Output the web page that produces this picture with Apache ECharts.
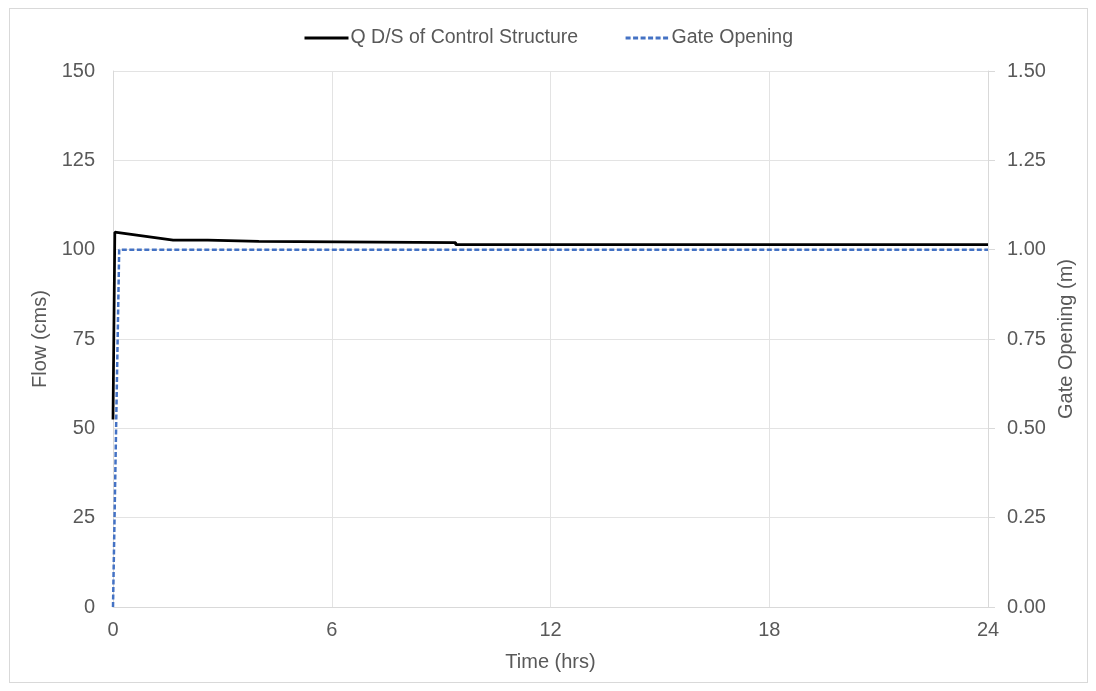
<!DOCTYPE html>
<html>
<head>
<meta charset="utf-8">
<script src="https://cdn.jsdelivr.net/npm/echarts@6/dist/echarts.min.js"></script>
<style>
html,body{margin:0;padding:0;background:#fff;}
#frame{position:absolute;left:9px;top:8px;width:1079px;height:675px;border:1px solid #d9d9d9;box-sizing:border-box;}
#chart{position:absolute;left:0;top:0;width:1096px;height:691px;}
</style>
</head>
<body>
<div id="frame"></div>
<div id="chart"></div>
<script>
// Time (hrs) and flow (cms) downstream of control structure
const flowTime = [0, 0.05, 1.65, 2.6, 2.6, 4.0, 4.0, 9.4, 9.4, 24];
const flowValues = [52.5, 104.9, 102.7, 102.7, 102.3, 102.3, 102.0, 102.0, 101.4, 101.4];
// Gate opening (m)
const gateTime = [0, 0.17, 24];
const gateValues = [0, 1.0, 1.0];
const xTicks = [0, 6, 12, 18, 24];

const font = 'Liberation Sans, Arial, sans-serif';
const txt = '#595959';
const fs = 20;
const chart = echarts.init(document.getElementById('chart'));
chart.setOption({
  animation: false,
  legend: {
    top: 23,
    left: 'center',
    itemWidth: 44,
    itemHeight: 4,
    itemGap: 46,
    itemStyle: {opacity: 0},
    lineStyle: {width: 3},
    textStyle: {fontFamily: font, fontSize: 19.5, color: txt, padding: [0, 0, 0, -3]},
    data: ['Q D/S of Control Structure', 'Gate Opening']
  },
  grid: {left: 113, right: 108, top: 71, bottom: 84},
  xAxis: {
    type: 'value', min: 0, max: 24, interval: 6,
    name: 'Time (hrs)', nameLocation: 'middle', nameGap: 45,
    nameTextStyle: {fontFamily: font, fontSize: fs, color: txt},
    axisLine: {show: true, lineStyle: {color: '#d9d9d9', width: 1}},
    axisTick: {show: false},
    axisLabel: {fontFamily: font, fontSize: fs, color: txt, margin: 13,
      formatter: v => xTicks.includes(v) ? String(v) : ''},
    splitLine: {show: true, lineStyle: {color: '#e3e3e3', width: 1}}
  },
  yAxis: [{
    type: 'value', min: 0, max: 150, interval: 25, position: 'left',
    name: 'Flow (cms)', nameLocation: 'middle', nameGap: 56, nameRotate: 90,
    nameTextStyle: {fontFamily: font, fontSize: fs, color: txt},
    axisLine: {show: true, lineStyle: {color: '#d9d9d9', width: 1}},
    axisTick: {show: false},
    axisLabel: {fontFamily: font, fontSize: fs, color: txt, margin: 18},
    splitLine: {show: true, lineStyle: {color: '#e3e3e3', width: 1}}
  }, {
    type: 'value', min: 0, max: 1.5, interval: 0.25, position: 'right',
    name: 'Gate Opening (m)', nameLocation: 'middle', nameGap: 68, nameRotate: 90,
    nameTextStyle: {fontFamily: font, fontSize: fs, color: txt},
    axisLine: {show: true, lineStyle: {color: '#d9d9d9', width: 1}},
    axisTick: {show: true, inside: false, length: 7, lineStyle: {color: '#d9d9d9'}},
    axisLabel: {fontFamily: font, fontSize: fs, color: txt, margin: 19,
      formatter: v => v.toFixed(2)},
    splitLine: {show: false}
  }],
  series: [{
    name: 'Q D/S of Control Structure',
    type: 'line', yAxisIndex: 0, symbol: 'none', z: 3,
    lineStyle: {color: '#000000', width: 2.75},
    itemStyle: {color: '#000000'},
    data: flowTime.map((t, i) => [t, flowValues[i]])
  }, {
    name: 'Gate Opening',
    type: 'line', yAxisIndex: 1, symbol: 'none', z: 4,
    lineStyle: {color: '#4472C4', width: 2.5, type: [5, 2.5]},
    itemStyle: {color: '#4472C4'},
    data: gateTime.map((t, i) => [t, gateValues[i]])
  }]
});
</script>
</body>
</html>
